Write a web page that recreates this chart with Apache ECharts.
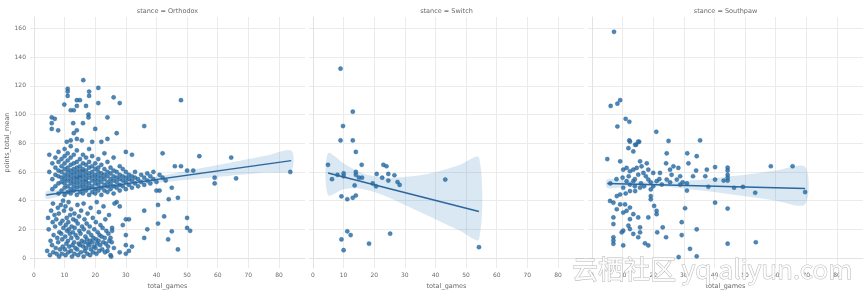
<!DOCTYPE html>
<html><head><meta charset="utf-8">
<script src="https://cdn.jsdelivr.net/npm/echarts@6/dist/echarts.min.js"></script>
<style>html,body{margin:0;padding:0;background:#fff}#c{width:868px;height:295px}</style>
</head><body><div id="c"></div>
<script>
const panelTitles = ['stance = Orthodox', 'stance = Switch', 'stance = Southpaw'];
const xTicks = [0, 10, 20, 30, 40, 50, 60, 70, 80];
const yTicks = [0, 20, 40, 60, 80, 100, 120, 140, 160];
const xName = 'total_games';
const yName = 'points_total_mean';

const orthodoxPts = [
[16.1,124],[11,118],[11,116],[11,113],[18,116],[18,113],[21,118.6],[9.9,107],[14,110],[15,110],[14,106],[17,106],[21,108],[26,112],[28,108],[48,110],[12,103],[13,103],[17.8,100],[17.8,98],[5.8,98],[6.8,97],[5.8,94],[5.8,90],[7.9,89],[12.8,94],[16,94],[24,98],[20,90],[14,89],[13,87],[27,87],[36,92],[15.6,82],[14,83],[12,82],[10.7,81],[19,81],[22,81],[24,83],
[83.7,60],[54,71],[64.4,70],[59,56],[59,52],[66,55.5],[50,61],[52,61],[42,73],[46,64],[48,64],[43,54],[45,49],[41,47],[40,47],[44,41],[47,42],[40.5,37],[36,33],[37,20],[40.5,24],[42.5,29],[45,18.6],[43.8,13],[47,6],[50,28],[50,21],[51,19],[36,14],[30,27],[31,27],[29,23],[30,16],[30,9],[30,3],[32,8],[31,5],[28,4],[25.5,21],[25.5,19],[25,14],[24,5],[25,2],[27,39],[28,36],
[5,60],[5,72],[6,48],[6,55],[6,66],[7,50],[7,58],[7,63],[7,70],[8,45],[8,52],[8,57],[8,61],[8,67],[8,74],[9,47],[9,53],[9,56],[9,60],[9,64],[9,69],[10,44],[10,49],[10,52],[10,55],[10,58],[10,62],[10,66],[10,71],[10,76],[11,46],[11,50],[11,54],[11,57],[11,60],[11,63],[11,68],[11,73],[12,45],[12,48],[12,52],[12,55],[12,58],[12,61],[12,65],[12,70],[12,78],[13,47],[13,50],[13,53],[13,56],[13,59],[13,62],[13,66],[13,72],[14,44],[14,49],[14,52],[14,55],[14,57],[14,60],[14,63],[14,67],[14,75],[15,46],[15,50],[15,53],[15,56],[15,58],[15,61],[15,64],[15,69],[16,45],[16,48],[16,51],[16,54],[16,57],[16,60],[16,62],[16,66],[16,72],[17,47],[17,50],[17,53],[17,55],[17,58],[17,61],[17,65],[17,70],[18,44],[18,49],[18,52],[18,56],[18,59],[18,63],[18,67],[18,76],[19,46],[19,50],[19,54],[19,57],[19,60],[19,64],[19,71],[20,45],[20,48],[20,52],[20,55],[20,58],[20,62],[20,66],[21,47],[21,51],[21,54],[21,57],[21,60],[21,63],[21,69],[22,44],[22,49],[22,53],[22,56],[22,59],[22,65],[23,47],[23,51],[23,55],[23,58],[23,62],[23,73],[24,46],[24,50],[24,53],[24,57],[24,60],[24,67],[25,48],[25,52],[25,55],[25,59],[25,63],[26,45],[26,50],[26,54],[26,57],[26,61],[26,70],[27,49],[27,53],[27,56],[27,60],[28,47],[28,51],[28,55],[28,58],[28,64],[29,50],[29,54],[29,57],[29,62],[30,48],[30,53],[30,56],[30,60],[30,74],[31,51],[31,55],[31,58],[32,49],[32,54],[32,57],[32,72],[33,52],[33,56],[33,60],[34,50],[34,55],[35,53],[35,58],[36,51],[36,56],[37,54],[37,59],[38,52],[38,57],[39,55],[39,60],[40,53],[41,58],[42,56],
[4.3,5],[4.6,28],[5.2,2],[5.4,12],[4.8,20],[5.6,33],[6.3,4],[5.9,9],[6.4,16],[6.1,25],[6.7,30],[6.2,38],[7.4,3],[7.1,7],[7.6,14],[6.9,22],[7.3,27],[7.8,35],[8.2,1],[8.5,6],[7.9,11],[8.3,18],[8.6,24],[8.1,31],[8.8,37],[9.1,3],[9.4,8],[9.2,13],[8.9,17],[9.6,21],[9.3,26],[9.8,33],[9.5,40],[10.3,2],[10.1,6],[10.6,10],[10.2,15],[10.8,19],[10.4,23],[10.7,28],[10.3,36],[11.2,4],[11.5,8],[11.1,12],[11.7,17],[11.4,20],[11.2,25],[11.8,30],[11.3,39],[12.4,1],[12.1,5],[12.6,9],[12.2,14],[12.7,18],[12.3,22],[12.8,27],[12.1,34],[13.2,3],[13.5,7],[13.1,11],[13.6,16],[13.3,21],[13.7,26],[13.2,31],[14.4,2],[14.1,6],[14.6,10],[14.2,14],[14.8,19],[14.3,24],[14.7,29],[14.2,37],[15.3,4],[15.1,9],[15.6,12],[15.2,17],[15.7,22],[15.4,33],[16.2,1],[16.6,5],[16.1,8],[16.4,11],[16.8,15],[16.3,20],[16.5,27],[16.2,38],[17.4,3],[17.1,7],[17.6,10],[17.3,13],[17.8,18],[17.2,24],[17.5,31],[18.3,2],[18.6,6],[18.1,9],[18.4,12],[18.7,16],[18.2,22],[18.5,35],[19.3,4],[19.6,8],[19.1,11],[19.4,14],[19.7,20],[19.2,28],[20.4,3],[20.1,7],[20.6,10],[20.3,13],[20.8,18],[20.2,25],[20.5,39],[21.3,5],[21.6,9],[21.1,12],[21.4,16],[21.7,23],[21.2,32],[22.3,6],[22.6,11],[22.1,15],[22.4,21],[22.7,36],[23.2,4],[23.5,10],[23.1,14],[23.6,19],[23.3,27],[24.2,8],[24.6,12],[24.3,17],[24.5,30],[25.2,1],[25.4,11],[26.1,7],[26.3,38]
];
const switchPts = [
[9,132],[13,102],[9.8,92],[9,82],[13,82],[14,74],[4.9,65],[15.9,65],[23,65],[24,64],[6.2,55],[8,58],[10,59],[10,57],[14,60],[14,58],[15,56],[16,56],[20.8,58.6],[22.6,56],[24.6,58.6],[26.6,57.7],[24.6,54],[27.6,53],[28.3,51],[19.5,52],[20.6,50],[13.6,50.6],[9.3,43],[11.2,41],[13,42],[14,43.6],[43.2,54.7],[11.2,18.6],[12.3,16],[9.3,13],[10,5.5],[18.3,10],[25.2,17],[54.2,7.6]
];
const southpawPts = [
[7.2,157.7],[6.1,106],[8.3,107.6],[9.2,110],[11,97],[12.2,95],[8.3,91.7],[21,88],[12.2,82],[14.4,79],[15.4,81],[25,81.6],[35.3,82],
[5,69],[58.4,64],[65.5,64],[69.6,46],[53.3,45.5],[49.3,49.6],[46.4,49],[40.2,63.4],[40.2,54.7],[40.2,38.6],[44.3,63],[44.3,61],[44.3,58],[44.3,56],[44.3,54],[44.3,34.5],[44.3,10],[53.5,11],[43,54],[37.5,61.6],[38,49.7],[37,57],[34.2,71],[31.1,73],[31.5,66],[34,61],[33,57],[31,52],[31,47],[30.4,34.7],[29.3,25],[29.3,16],[34.2,20],[32,6.4],[34.2,1.2],[28.3,0.7],
[24.4,73],[24.2,66],[25.5,61.6],[26.6,63.9],[28.2,62.8],[28.8,57],[27.7,54.7],[28.8,51.2],[29.6,52.8],[24.4,54.7],[25.5,52.8],[22.8,51.2],[21.1,53.6],[20,59.3],[22.2,59.3],[18.4,61.6],[17.9,66],[16.2,63.9],[16.8,59.3],[17.6,57],[18.4,54.7],[19.2,52.8],[19.2,47.8],[19.2,43.2],[19.2,40.9],[20.3,36.3],[21.1,32.9],[23.1,21.4],[24.2,14.5],[21.3,17.9],
[12.4,81.1],[14.1,78.9],[15.1,81.1],[11.9,76.6],[13.5,74.3],[9.2,67.4],[10.2,61.6],[11.3,62.8],[12.4,60.5],[13.5,61.6],[14.6,62.8],[15.7,67.4],[15.1,58.1],[13.5,53.6],[12.4,51.2],[11.3,53.6],[10.2,49],[9.2,44.3],[8.1,43.2],[7,38.6],[9.2,37.4],[10.8,37.4],[12.4,35.2],[13.5,30.6],[11.3,32.9],[10.2,31.7],[15.1,28.3],[7,28.3],[12.4,27.1],[11.9,22.6],[12.4,20.2],[10.2,19.1],[9.7,17.9],[13.5,16.8],[15.7,17.9],[15.1,14.5],[7,14.5],[7,12.2],[7,9.9],[10.2,8.8],[17.3,10.3],[18.4,8.8],[15.7,21.4],[21.1,30.6],[18.4,28.3],[7,23.7],[8.1,34],[5.9,39.8],[14.1,46.7],[15.7,49],[12.4,46.7],
[16,52],[17,50],[14,55],[20,50],[22,55],[26,58],[6,52],[8,55],[10,56],[12,57],[14,50],[11,45]
];

// fitted regression lines (endpoints)
const orthodoxFit = [[4, 43.9], [84, 67.9]];
const switchFit = [[4.9, 59.3], [54.2, 32.4]];
const southpawFit = [[5, 51.9], [69.6, 48.5]];

// confidence bands
const orthodoxCiX = [4, 10, 18, 28, 40, 52, 64, 76, 84];
const orthodoxCiLow = [41.3, 43.9, 46.8, 49.7, 52.5, 55.0, 57.4, 59.6, 60.9];
const orthodoxCiHigh = [46.5, 47.5, 49.4, 52.5, 56.9, 61.6, 66.4, 71.4, 74.9];
const switchCiX = [4.9, 10, 15, 20, 25, 30, 36, 42, 48, 54.2];
const switchCiLow = [44, 48, 48.5, 46, 42, 37, 31, 25, 19, 13];
const switchCiHigh = [73, 66, 60, 57, 56, 56.5, 58, 61, 65, 70];
const southpawCiX = [5, 12, 20, 28, 36, 44, 52, 60, 69.6];
const southpawCiLow = [48.8, 49.8, 50.0, 48.9, 47.0, 44.8, 42.5, 40.0, 37.5];
const southpawCiHigh = [55.0, 53.8, 53.1, 53.5, 54.7, 56.6, 58.5, 61.0, 63.5];

const panels = [
  {pts: orthodoxPts, fit: orthodoxFit, cx: orthodoxCiX, lo: orthodoxCiLow, hi: orthodoxCiHigh},
  {pts: switchPts, fit: switchFit, cx: switchCiX, lo: switchCiLow, hi: switchCiHigh},
  {pts: southpawPts, fit: southpawFit, cx: southpawCiX, lo: southpawCiLow, hi: southpawCiHigh}
];

const G = {top: 17, h: 254, w: 275, lefts: [30, 309, 588]};
const labelColor = '#6a6a6a';
const gridColor = '#ebebeb';
const ptColor = '#2a72ae';
const lineColor = '#2b669e';
const font = 'DejaVu Sans';

const chart = echarts.init(document.getElementById('c'), null, {renderer: 'canvas'});
const grid = [], xAxis = [], yAxis = [], series = [], graphic = [];
panels.forEach((p, i) => {
  grid.push({left: G.lefts[i], top: G.top, width: G.w, height: G.h, containLabel: false});
  xAxis.push({
    type: 'value', gridIndex: i, min: -1.3, max: 88.5,
    name: xName, nameLocation: 'middle', nameGap: 13,
    nameTextStyle: {fontSize: 6.5, color: labelColor, fontFamily: font},
    axisLine: {show: true, lineStyle: {color: '#e2e2e2'}},
    axisTick: {show: false, customValues: xTicks},
    axisLabel: {customValues: xTicks, fontSize: 6, color: labelColor, margin: 4, fontFamily: font},
    splitLine: {show: true, lineStyle: {color: gridColor, width: 1}}
  });
  yAxis.push({
    type: 'value', gridIndex: i, min: -7, max: 168,
    name: i === 0 ? yName : '', nameLocation: 'middle', nameGap: 17, nameRotate: 90,
    nameTextStyle: {fontSize: 6.5, color: labelColor, fontFamily: font},
    axisLine: {show: true, lineStyle: {color: '#e2e2e2'}},
    axisTick: {show: false, customValues: yTicks},
    axisLabel: {show: i === 0, customValues: yTicks, fontSize: 6, color: labelColor, margin: 4, fontFamily: font},
    splitLine: {show: true, lineStyle: {color: gridColor, width: 1}}
  });
  series.push({
    type: 'scatter', xAxisIndex: i, yAxisIndex: i, data: p.pts,
    symbolSize: 4.2, itemStyle: {color: ptColor, opacity: 0.85, borderColor: '#24527a', borderWidth: 0.4},
    silent: true, z: 2
  });
  series.push({
    type: 'custom', xAxisIndex: i, yAxisIndex: i, data: [[p.cx[0], p.lo[0]]], z: 3, silent: true,
    renderItem: (params, api) => {
      const up = p.cx.map((x, k) => api.coord([x, p.hi[k]]));
      const dn = p.cx.map((x, k) => api.coord([x, p.lo[k]])).reverse();
      return {type: 'polygon', shape: {points: up.concat(dn), smooth: 0.3},
        style: {fill: 'rgba(31,119,180,0.17)', stroke: 'none'}};
    }
  });
  series.push({
    type: 'line', xAxisIndex: i, yAxisIndex: i, data: p.fit, symbol: 'none', z: 4, silent: true,
    lineStyle: {color: lineColor, width: 1.5}
  });
  graphic.push({type: 'text', x: G.lefts[i] + G.w / 2, y: 15, silent: true,
    style: {text: panelTitles[i], fontSize: 6.5, fill: labelColor, fontFamily: font, textAlign: 'center', textVerticalAlign: 'bottom'}});
});
graphic.push({type: 'text', x: 572, y: 256, silent: true, z: 100,
  style: {text: '云栖社区 yq.aliyun.com', fontSize: 26, fontFamily: 'Noto Sans CJK SC', fill: 'rgba(255,255,255,0.9)', stroke: '#b8b8b8', lineWidth: 1}});

chart.setOption({animation: false, backgroundColor: '#fff', grid, xAxis, yAxis, series, graphic});
</script></body></html>
